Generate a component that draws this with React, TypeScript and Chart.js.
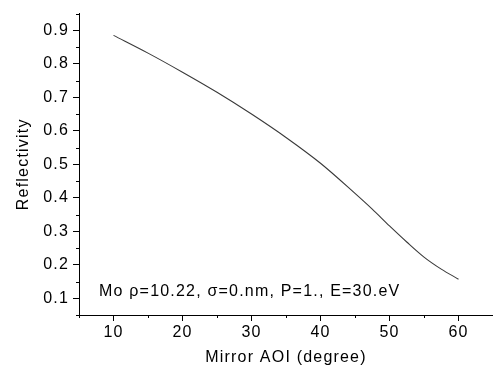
import React, { useEffect, useRef } from "react";
import { Chart, registerables } from "chart.js";

Chart.register(...registerables);

const AOI = [10, 15, 20, 25, 30, 35, 40, 45, 47.5, 50, 52.5, 55, 57.5, 60];
const REFLECTIVITY = [0.885, 0.832, 0.775, 0.715, 0.65, 0.58, 0.503, 0.413, 0.366, 0.316, 0.268, 0.223, 0.187, 0.157];
const X_MAJOR = [10, 20, 30, 40, 50, 60];
const X_MINOR = [5, 15, 25, 35, 45, 55, 65];
const Y_MAJOR = [0.1, 0.2, 0.3, 0.4, 0.5, 0.6, 0.7, 0.8, 0.9];
const Y_MINOR = [0.05, 0.15, 0.25, 0.35, 0.45, 0.55, 0.65, 0.75, 0.85, 0.95];
const X_TITLE = "Mirror AOI (degree)";
const Y_TITLE = "Reflectivity";
const ANNOTATION = "Mo \u03c1=10.22, \u03c3=0.nm, P=1., E=30.eV";
const ANNOT_X = 7.9;
const ANNOT_Y = 0.108;

const FONT_FAMILY = "Arial, 'Liberation Sans', sans-serif";
const LS = "1.2px";

export default function App() {
  const ref = useRef<HTMLCanvasElement | null>(null);

  useEffect(() => {
    document.body.style.margin = "0";
    const canvas = ref.current!;
    const spacing = {
      id: "spacing",
      beforeLayout(chart: any) {
        (chart.ctx as any).letterSpacing = LS;
      },
      beforeDraw(chart: any) {
        (chart.ctx as any).letterSpacing = LS;
      },
    };
    const extras = {
      id: "extras",
      afterDraw(chart: any) {
        const ctx = chart.ctx;
        const xs = chart.scales.x;
        const ys = chart.scales.y;
        const area = chart.chartArea;
        ctx.save();
        ctx.strokeStyle = "#000";
        ctx.lineWidth = 1;
        ctx.beginPath();
        for (const v of X_MINOR) {
          const px = Math.round(xs.getPixelForValue(v)) + 0.5;
          ctx.moveTo(px, area.bottom);
          ctx.lineTo(px, area.bottom + 3);
        }
        for (const v of Y_MINOR) {
          const py = Math.round(ys.getPixelForValue(v)) + 0.5;
          ctx.moveTo(area.left, py);
          ctx.lineTo(area.left - 3, py);
        }
        ctx.stroke();
        (ctx as any).letterSpacing = LS;
        ctx.fillStyle = "#000";
        ctx.font = `16px ${FONT_FAMILY}`;
        ctx.textAlign = "left";
        ctx.textBaseline = "alphabetic";
        ctx.fillText(ANNOTATION, xs.getPixelForValue(ANNOT_X), ys.getPixelForValue(ANNOT_Y));
        ctx.restore();
      },
    };

    const chart = new Chart(canvas, {
      type: "line",
      data: {
        datasets: [
          {
            data: AOI.map((x, i) => ({ x, y: REFLECTIVITY[i] })),
            borderColor: "#3a3a3a",
            borderWidth: 1.1,
            pointRadius: 0,
            fill: false,
            cubicInterpolationMode: "monotone",
          },
        ],
      },
      options: {
        animation: false,
        responsive: false,
        devicePixelRatio: 1,
        layout: { padding: { top: 6, right: 0, bottom: 0, left: 0 } },
        plugins: { legend: { display: false }, tooltip: { enabled: false } },
        scales: {
          x: {
            type: "linear",
            min: 5,
            max: 65,
            afterBuildTicks: (s: any) => {
              s.ticks = X_MAJOR.map((v) => ({ value: v }));
            },
            afterFit: (s: any) => {
              s.height = 60;
            },
            border: { display: true, color: "#000", width: 1 },
            grid: { display: true, drawOnChartArea: false, drawTicks: true, tickLength: 6, color: "#000" },
            ticks: {
              color: "#000",
              font: { family: FONT_FAMILY, size: 16 },
              padding: 2,
              maxRotation: 0,
              autoSkip: false,
              callback: (v: any) => String(v),
            },
            title: {
              display: true,
              text: X_TITLE,
              color: "#000",
              font: { family: FONT_FAMILY, size: 16 },
              padding: { top: 0, bottom: 8 },
            },
          },
          y: {
            type: "linear",
            min: 0.05,
            max: 0.95,
            afterBuildTicks: (s: any) => {
              s.ticks = Y_MAJOR.map((v) => ({ value: v }));
            },
            afterFit: (s: any) => {
              s.width = 79;
            },
            border: { display: true, color: "#000", width: 1 },
            grid: { display: true, drawOnChartArea: false, drawTicks: true, tickLength: 6, color: "#000" },
            ticks: {
              color: "#000",
              font: { family: FONT_FAMILY, size: 16 },
              padding: 4,
              autoSkip: false,
              callback: (v: any) => Number(v).toFixed(1),
            },
            title: {
              display: true,
              text: Y_TITLE,
              color: "#000",
              font: { family: FONT_FAMILY, size: 16 },
              padding: { top: 14, bottom: 0 },
            },
          },
        },
      },
      plugins: [spacing, extras],
    } as any);
    return () => chart.destroy();
  }, []);

  return <canvas ref={ref} width={493} height={375} style={{ display: "block", width: 493, height: 375 }} />;
}
